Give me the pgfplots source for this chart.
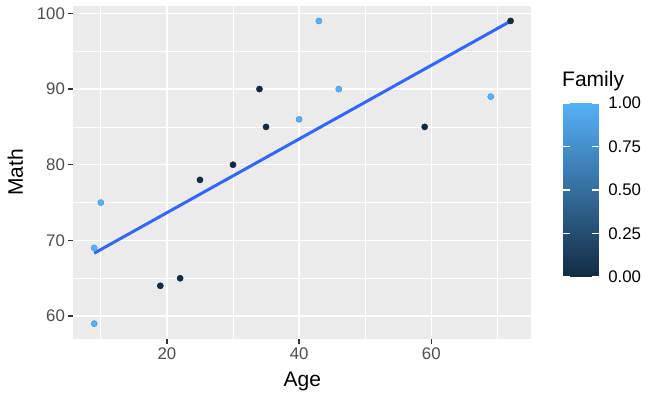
\documentclass[border=0pt]{standalone}
\usepackage{pgfplots}
\pgfplotsset{compat=1.18}
\usepackage{fontspec}
\setmainfont{Liberation Sans}
\definecolor{panel}{HTML}{EBEBEB}
\definecolor{tickgrey}{HTML}{4D4D4D}
\definecolor{tickmark}{HTML}{333333}
\definecolor{smoothc}{HTML}{3366FF}
\pgfplotsset{colormap={ggblue}{rgb255=(19,43,67) rgb255=(86,177,247)}}
\pgfplotstableread{
age math fam
9 59 1
9 69 1
10 75 1
19 64 0
22 65 0
25 78 0
30 80 0
34 90 0
35 85 0
40 86 1
43 99 1
46 90 1
59 85 0
69 89 1
72 99 0
}\datatab
\begin{document}
\begin{tikzpicture}[x=1pt,y=1pt]
\useasboundingbox (0,0) rectangle (658,396);
\begin{axis}[
  at={(73.4pt,57.2pt)}, anchor=south west,
  scale only axis, width=458pt, height=333pt,
  xmin=5.85, xmax=75.15, ymin=57, ymax=101,
  axis background/.style={fill=panel},
  axis line style={draw=none},
  xtick={20,40,60}, ytick={60,70,80,90,100},
  minor xtick={10,30,50,70}, minor ytick={65,75,85,95},
  grid=both,
  major grid style={white, line width=1.5pt},
  minor grid style={white, line width=0.75pt},
  tick align=outside, tick pos=left,
  major tick length=5pt, minor tick length=0pt,
  major tick style={tickmark, line width=1.5pt},
  /pgf/number format/assume math mode=true,
  ticklabel style={font=\fontsize{16.8}{18}\selectfont, text=tickgrey},
  xlabel={Age}, ylabel={Math},
  label style={font=\fontsize{21}{23}\selectfont},
  xlabel style={at={(axis description cs:0.5,0)}, anchor=center, yshift=-43pt},
  ylabel style={at={(axis description cs:0,0.5)}, anchor=center, yshift=58pt},
  colormap name=ggblue,
  point meta min=0, point meta max=1,
  colorbar,
  colorbar/width=35.6pt,
  colorbar style={
    at={(parent axis.south east)}, anchor=south west,
    xshift=23.3pt, yshift=61.8pt,
    scale only axis,
    width=35.6pt, height=174pt,
    axis on top,
    axis line style={draw=none},
    ytick={0,0.25,0.5,0.75,1},
    ytick pos=both, tick align=inside,
    major tick length=7pt,
    major tick style={white, line width=1.5pt},
    yticklabel pos=right,
    /pgf/number format/assume math mode=true,
    yticklabel style={font=\fontsize{16.8}{18}\selectfont, text=black, xshift=6pt,
      /pgf/number format/.cd, fixed, fixed zerofill, precision=2},
  },
]
\addplot[scatter, only marks, mark=*, mark size=3.1pt, scatter src=explicit]
  table[x=age, y=math, meta=fam] {\datatab};
\addplot[smoothc, line width=3pt] coordinates {(9,68.31) (72,98.97)};
\end{axis}
\node[anchor=base west, font=\fontsize{21}{23}\selectfont, inner sep=0pt] at (562,309) {Family};
\end{tikzpicture}
\end{document}
